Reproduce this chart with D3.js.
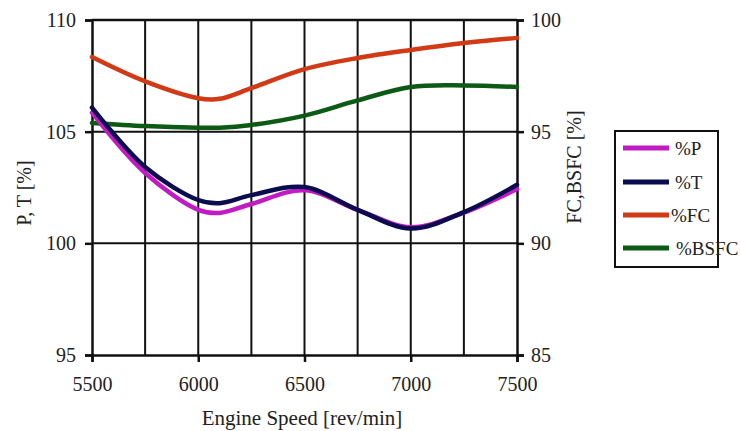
<!DOCTYPE html>
<html><head><meta charset="utf-8">
<script src="https://cdn.jsdelivr.net/npm/d3@7"></script>
<style>body{margin:0;background:#fff}svg{display:block}</style>
</head><body>
<svg id="c" width="741" height="431"></svg>
<script>
const speeds = [5500, 5750, 6000, 6100, 6250, 6500, 6750, 7000, 7250, 7500];
const pctP   = [105.85, 103.15, 101.5, 101.36, 101.76, 102.38, 101.5, 100.72, 101.38, 102.43];
const pctT   = [106.08, 103.42, 101.94, 101.8, 102.16, 102.52, 101.5, 100.66, 101.4, 102.62];
const pctFC  = [98.34, 97.25, 96.5, 96.47, 96.95, 97.8, 98.3, 98.66, 98.97, 99.2];
const pctBSFC= [95.39, 95.25, 95.18, 95.18, 95.3, 95.72, 96.4, 97.0, 97.07, 97.0];
const xTicks = [5500, 6000, 6500, 7000, 7500];
const xGrid  = [5750, 6000, 6250, 6500, 6750, 7000, 7250];
const leftTicks = [95, 100, 105, 110];
const rightTicks = [85, 90, 95, 100];
const seriesNames = ["%P", "%T", "%FC", "%BSFC"];
const seriesColors = ["#c21bc4", "#0b0b4f", "#d13a14", "#0d5a14"];

const FONT = '"Liberation Serif", serif';
const svg = d3.select("#c");
const L = 92, R = 517, T = 20, B = 355;
const x = d3.scaleLinear().domain([5500, 7500]).range([L, R]);
const yL = d3.scaleLinear().domain([95, 110]).range([B, T]);
const yR = d3.scaleLinear().domain([85, 100]).range([B, T]);

// grid
svg.append("g").selectAll("line").data(xGrid).join("line")
  .attr("x1", d => x(d)).attr("x2", d => x(d)).attr("y1", T).attr("y2", B)
  .attr("stroke", "#111").attr("stroke-width", 2);
svg.append("g").selectAll("line").data([100, 105]).join("line")
  .attr("x1", L).attr("x2", R).attr("y1", d => yL(d)).attr("y2", d => yL(d))
  .attr("stroke", "#111").attr("stroke-width", 2);

// axes
const ax = svg.append("g").attr("transform", `translate(0,${B})`)
  .call(d3.axisBottom(x).tickValues(xTicks).tickSize(7).tickPadding(15).tickFormat(d3.format("d")));
const al = svg.append("g").attr("transform", `translate(${L},0)`)
  .call(d3.axisLeft(yL).tickValues(leftTicks).tickSize(7).tickPadding(9));
const ar = svg.append("g").attr("transform", `translate(${R},0)`)
  .call(d3.axisRight(yR).tickValues(rightTicks).tickSize(7).tickPadding(7));
[ax, al, ar].forEach(g => {
  g.select(".domain").attr("stroke", "#111").attr("stroke-width", 2.5);
  g.selectAll(".tick line").attr("stroke", "#111").attr("stroke-width", 2.5);
  g.selectAll(".tick text").attr("fill", "#222")
    .style("font-family", FONT).style("font-size", "20px");
});
// top frame
svg.append("line").attr("x1", L).attr("x2", R).attr("y1", T).attr("y2", T)
  .attr("stroke", "#111").attr("stroke-width", 2.5);

// lines
const allSeries = [pctP, pctT, pctFC, pctBSFC];
const scales = [yL, yL, yR, yR];
const order = [3, 2, 0, 1];
order.forEach(i => {
  const line = d3.line().x((d, j) => x(speeds[j])).y(d => scales[i](d)).curve(d3.curveCatmullRom.alpha(0.5));
  svg.append("path").datum(allSeries[i]).attr("d", line)
    .attr("fill", "none").attr("stroke", seriesColors[i]).attr("stroke-width", 4.5)
    .attr("stroke-linejoin", "round").attr("stroke-linecap", "round");
});

// axis titles
function txt(sel, s) { return sel.style("font-family", FONT).style("font-size", (s || 20) + "px").attr("fill", "#222"); }
txt(svg.append("text"), 21).attr("x", 302).attr("y", 425).attr("text-anchor", "middle").text("Engine Speed [rev/min]");
txt(svg.append("text"), 20).attr("transform", "translate(31,193) rotate(-90)").attr("text-anchor", "middle").text("P, T [%]");
txt(svg.append("text"), 20).attr("transform", "translate(581,167) rotate(-90)").attr("text-anchor", "middle").text("FC,BSFC [%]");

// legend
const lg = svg.append("g");
lg.append("rect").attr("x", 615).attr("y", 131).attr("width", 103).attr("height", 136)
  .attr("fill", "#fff").attr("stroke", "#111").attr("stroke-width", 2);
const ly = [148, 182, 215, 248];
seriesNames.forEach((n, i) => {
  lg.append("line").attr("x1", 623).attr("x2", 669).attr("y1", ly[i]).attr("y2", ly[i])
    .attr("stroke", seriesColors[i]).attr("stroke-width", 5);
  txt(lg.append("text"), 19).attr("x", i === 2 ? 671 : (i === 3 ? 676 : 675)).attr("y", ly[i] + 7).text(n);
});
</script>
</body></html>
